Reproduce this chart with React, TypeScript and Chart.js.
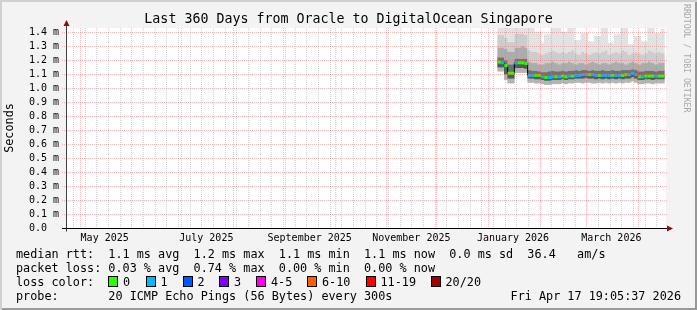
import React, { useEffect, useRef } from "react";
import { Chart, registerables } from "chart.js";

Chart.register(...registerables);

// ---------- text ----------
const TITLE = "Last 360 Days from Oracle to DigitalOcean Singapore";
const Y_TITLE = "Seconds";
const TAG = "RRDTOOL / TOBI OETIKER";
const LEGEND_RTT = "median rtt:  1.1 ms avg  1.2 ms max  1.1 ms min  1.1 ms now  0.0 ms sd  36.4   am/s";
const LEGEND_LOSS = "packet loss: 0.03 % avg  0.74 % max  0.00 % min  0.00 % now";
const LEGEND_COLOR = "loss color:";
const LEGEND_PROBE = "probe:       20 ICMP Echo Pings (56 Bytes) every 300s";
const STAMP = "Fri Apr 17 19:05:37 2026";

// ---------- axes ----------
const RANGE_DAYS = 360;
const START_MS = Date.UTC(2025, 3, 22, 19, 5, 37);
const Y_TICKS = [0, 0.1, 0.2, 0.3, 0.4, 0.5, 0.6, 0.7, 0.8, 0.9, 1.0, 1.1, 1.2, 1.3, 1.4];
const Y_MAX = 1.4286;
const X_LABELS = ["May 2025", "July 2025", "September 2025", "November 2025", "January 2026", "March 2026"];
const X_LABEL_DATES = [[2025, 4, 16], [2025, 6, 16], [2025, 8, 16], [2025, 10, 16], [2026, 0, 16], [2026, 2, 16]];

// ---------- loss legend ----------
const LOSS_LABELS = ["0", "1", "2", "3", "4-5", "6-10", "11-19", "20/20"];
const LOSS_COLORS = ["#26ff00", "#00b8ff", "#0059ff", "#7e00ff", "#ff00ea", "#ff5e00", "#ff0000", "#a00000"];

// ---------- data (days since start, values in ms) ----------
const SAMPLE_DAYS = [260, 262, 264, 266, 268, 270, 272, 274, 276, 278, 280, 282, 284, 286, 288, 290, 292, 294, 296, 298,
  300, 302, 304, 306, 308, 310, 312, 314, 316, 318, 320, 322, 324, 326, 328, 330, 332, 334, 336, 338,
  340, 342, 344, 346, 348, 350, 352, 354, 356, 358];
const MEDIAN = [1.185, 1.18, 1.16, 1.105, 1.105, 1.18, 1.18, 1.18, 1.175, 1.09,
  1.09, 1.09, 1.09, 1.08, 1.075, 1.075, 1.08, 1.08, 1.08, 1.085,
  1.08, 1.085, 1.085, 1.09, 1.09, 1.095, 1.095, 1.095, 1.095, 1.09,
  1.09, 1.09, 1.09, 1.09, 1.09, 1.09, 1.09, 1.09, 1.095, 1.095,
  1.105, 1.095, 1.08, 1.08, 1.085, 1.085, 1.085, 1.085, 1.085, 1.085];
const LOSS = [0, 1, 0, 0, 0, 1, 0, 0, 0, 1,
  1, 0, 0, 1, 0, 1, 1, 0, 1, 0,
  0, 1, 0, 1, 1, 1, 1, 0, 1, 1,
  0, 1, 1, 1, 0, 1, 1, 0, 0, 1,
  1, 1, 0, 1, 0, 0, 0, 1, 0, 0];
const SMOKE_MAX = [1.45, 1.45, 1.45, 1.45, 1.45, 1.45, 1.45, 1.45, 1.45, 1.45,
  1.45, 1.40, 1.40, 1.32, 1.38, 1.38, 1.45, 1.45, 1.45, 1.40,
  1.40, 1.45, 1.45, 1.34, 1.34, 1.39, 1.39, 1.33, 1.33, 1.37,
  1.37, 1.43, 1.43, 1.32, 1.32, 1.38, 1.38, 1.45, 1.45, 1.31,
  1.31, 1.37, 1.37, 1.33, 1.33, 1.45, 1.45, 1.39, 1.39, 1.42];
const SMOKE_HI2 = [1.38, 1.38, 1.36, 1.33, 1.33, 1.39, 1.39, 1.39, 1.38, 1.27,
  1.26, 1.26, 1.25, 1.24, 1.25, 1.26, 1.27, 1.26, 1.25, 1.26,
  1.25, 1.26, 1.27, 1.25, 1.24, 1.26, 1.25, 1.24, 1.25, 1.26,
  1.25, 1.26, 1.27, 1.24, 1.25, 1.26, 1.25, 1.27, 1.26, 1.24,
  1.25, 1.26, 1.25, 1.24, 1.25, 1.27, 1.26, 1.25, 1.26, 1.25];
const SMOKE_HI1 = [1.29, 1.29, 1.28, 1.26, 1.26, 1.29, 1.29, 1.30, 1.29, 1.19,
  1.18, 1.18, 1.17, 1.17, 1.18, 1.18, 1.19, 1.18, 1.17, 1.18,
  1.18, 1.19, 1.18, 1.17, 1.18, 1.18, 1.17, 1.18, 1.19, 1.18,
  1.17, 1.18, 1.18, 1.17, 1.18, 1.19, 1.18, 1.18, 1.17, 1.18,
  1.19, 1.18, 1.17, 1.18, 1.18, 1.19, 1.18, 1.17, 1.18, 1.18];
const SMOKE_HI0 = [1.22, 1.22, 1.20, 1.17, 1.17, 1.21, 1.21, 1.21, 1.21, 1.13,
  1.125, 1.125, 1.12, 1.115, 1.115, 1.12, 1.125, 1.12, 1.12, 1.125,
  1.12, 1.125, 1.125, 1.13, 1.125, 1.13, 1.13, 1.125, 1.13, 1.125,
  1.125, 1.13, 1.125, 1.125, 1.13, 1.125, 1.125, 1.13, 1.13, 1.13,
  1.135, 1.13, 1.12, 1.12, 1.125, 1.125, 1.125, 1.12, 1.125, 1.125];
const SMOKE_LO = [1.15, 1.15, 1.10, 1.07, 1.07, 1.145, 1.145, 1.145, 1.14, 1.07,
  1.07, 1.065, 1.065, 1.06, 1.055, 1.055, 1.06, 1.06, 1.06, 1.065,
  1.06, 1.065, 1.065, 1.07, 1.07, 1.07, 1.075, 1.07, 1.07, 1.065,
  1.07, 1.065, 1.07, 1.065, 1.07, 1.065, 1.07, 1.065, 1.07, 1.07,
  1.08, 1.07, 1.06, 1.06, 1.065, 1.065, 1.06, 1.065, 1.065, 1.065];
const SMOKE_MIN = [1.12, 1.12, 1.06, 1.035, 1.035, 1.11, 1.11, 1.11, 1.11, 1.04,
  1.04, 1.035, 1.035, 1.03, 1.025, 1.025, 1.03, 1.03, 1.03, 1.035,
  1.03, 1.035, 1.035, 1.04, 1.04, 1.035, 1.04, 1.04, 1.035, 1.035,
  1.04, 1.035, 1.04, 1.035, 1.04, 1.035, 1.04, 1.035, 1.04, 1.04,
  1.05, 1.04, 1.03, 1.03, 1.035, 1.035, 1.03, 1.035, 1.035, 1.035];

const MONO = "'DejaVu Sans Mono', monospace";
const DAY_MS = 86400000;
const dayOf = (y: number, m: number, d: number) => (Date.UTC(y, m, d) - START_MS) / DAY_MS;

function monthStarts(): number[] {
  const out: number[] = [];
  for (let k = 0; k < 14; k++) {
    const v = dayOf(2025, 3 + k, 1);
    if (v > 0 && v < RANGE_DAYS) out.push(v);
  }
  return out;
}
function weekStarts(): number[] {
  const out: number[] = [];
  let v = dayOf(2025, 3, 27);
  while (v < RANGE_DAYS) { if (v > 0) out.push(v); v += 7; }
  return out;
}

const rrdPlugin = {
  id: "rrdGrid",
  beforeDatasetsDraw(chart: any) {
    const { ctx, chartArea: a } = chart;
    ctx.save();
    ctx.fillStyle = "#ffffff";
    ctx.fillRect(a.left, a.top, a.right - a.left, a.bottom - a.top);
    ctx.restore();
  },
  afterDatasetsDraw(chart: any) {
    const { ctx, chartArea: a, scales } = chart;
    const xs = scales.x, ys = scales.y;
    ctx.save();
    ctx.lineWidth = 1;
    ctx.setLineDash([1, 1]);
    const months = monthStarts();
    ctx.strokeStyle = "rgba(140,140,140,0.38)";
    for (const d of weekStarts()) {
      if (months.some((m) => Math.abs(m - d) < 0.5)) continue;
      const x = Math.round(xs.getPixelForValue(d)) + 0.5;
      ctx.beginPath(); ctx.moveTo(x, a.top); ctx.lineTo(x, a.bottom); ctx.stroke();
    }
    ctx.strokeStyle = "rgba(240,90,90,0.42)";
    for (const d of months) {
      const x = Math.round(xs.getPixelForValue(d)) + 0.5;
      ctx.beginPath(); ctx.moveTo(x, a.top); ctx.lineTo(x, a.bottom); ctx.stroke();
    }
    for (const v of Y_TICKS) {
      if (v === 0) continue;
      const y = Math.round(ys.getPixelForValue(v)) + 0.5;
      ctx.beginPath(); ctx.moveTo(a.left - 4, y); ctx.lineTo(a.right + 1, y); ctx.stroke();
    }
    ctx.setLineDash([]);
    const x0 = Math.round(a.left) + 0.5;
    const y0 = Math.round(a.bottom) + 0.5;
    ctx.strokeStyle = "#404040";
    ctx.beginPath(); ctx.moveTo(x0, y0 + 3); ctx.lineTo(x0, a.top - 5); ctx.stroke();
    ctx.strokeStyle = "#000";
    ctx.beginPath(); ctx.moveTo(a.left - 4, y0); ctx.lineTo(a.right + 4, y0); ctx.stroke();
    ctx.fillStyle = "#8b0d0d";
    ctx.beginPath();
    ctx.moveTo(x0, a.top - 8); ctx.lineTo(x0 - 3, a.top - 2); ctx.lineTo(x0 + 3, a.top - 2); ctx.closePath(); ctx.fill();
    ctx.beginPath();
    ctx.moveTo(a.right + 7, y0); ctx.lineTo(a.right + 1, y0 - 3); ctx.lineTo(a.right + 1, y0 + 3); ctx.closePath(); ctx.fill();
    ctx.restore();
  },
};

function bandData(lo: number[], hi: number[]) {
  return SAMPLE_DAYS.map((d, i) => ({ x: d, y: [lo[i], hi[i]] }));
}

export default function App() {
  const ref = useRef<HTMLCanvasElement | null>(null);

  useEffect(() => {
    if (!ref.current) return;
    const bands: [number[], number[], string][] = [
      [SMOKE_HI2, SMOKE_MAX, "#e2e2e2"],
      [SMOKE_HI1, SMOKE_HI2, "#cdcdcd"],
      [SMOKE_HI0, SMOKE_HI1, "#acacac"],
      [MEDIAN, SMOKE_HI0, "#707070"],
      [SMOKE_LO, MEDIAN, "#575757"],
      [SMOKE_MIN, SMOKE_LO, "#b4b4b4"],
    ];
    const barSets = bands.map(([lo, hi, color], k) => ({
      type: "bar" as const,
      data: bandData(lo, hi),
      backgroundColor: color,
      borderWidth: 0,
      grouped: false,
      barPercentage: 1,
      categoryPercentage: 1,
      order: 2 + k,
    }));
    const medianPts = SAMPLE_DAYS.map((d, i) => ({ x: d, y: MEDIAN[i] }));
    const chart = new Chart(ref.current, {
      type: "bar",
      data: {
        datasets: [
          {
            type: "line",
            data: medianPts,
            showLine: false,
            pointStyle: "line",
            pointRadius: 1.75,
            pointBorderWidth: 3,
            pointBorderColor: LOSS.map((l) => LOSS_COLORS[l]),
            pointBackgroundColor: LOSS.map((l) => LOSS_COLORS[l]),
            order: 0,
          } as any,
          {
            type: "line",
            data: medianPts,
            borderColor: "#000000",
            borderWidth: 1,
            stepped: "middle",
            pointRadius: 0,
            order: 1,
          } as any,
          ...(barSets as any[]),
        ],
      },
      options: {
        animation: false,
        responsive: false,
        maintainAspectRatio: false,
        events: [],
        layout: { padding: { top: 28, right: 31, bottom: 0, left: 0 } },
        plugins: { legend: { display: false }, tooltip: { enabled: false }, title: { display: false } },
        scales: {
          x: {
            type: "linear",
            min: 0,
            max: RANGE_DAYS,
            offset: false,
            grid: { display: false, drawTicks: false },
            border: { display: false },
            afterBuildTicks: (s: any) => {
              s.ticks = X_LABEL_DATES.map(([y, m, d]) => ({ value: dayOf(y, m, d) }));
            },
            afterFit: (s: any) => { s.height = 82; },
            ticks: {
              autoSkip: false,
              maxRotation: 0,
              minRotation: 0,
              padding: 4,
              color: "#000",
              font: { family: MONO, size: 10 },
              callback: (_v: any, i: number) => X_LABELS[i],
            },
          },
          y: {
            type: "linear",
            min: 0,
            max: Y_MAX,
            grid: { display: false, drawTicks: false },
            border: { display: false },
            afterBuildTicks: (s: any) => { s.ticks = Y_TICKS.map((v) => ({ value: v })); },
            afterFit: (s: any) => { s.width = 66; },
            ticks: {
              autoSkip: false,
              padding: 7,
              color: "#000",
              font: { family: MONO, size: 10 },
              callback: (v: any) => Number(v).toFixed(1) + (Number(v) === 0 ? "  " : " m"),
            },
            title: {
              display: true,
              text: Y_TITLE,
              color: "#000",
              font: { family: MONO, size: 11.8 },
              padding: { top: 3, bottom: 0 },
            },
          },
        },
      } as any,
      plugins: [rrdPlugin],
    });
    return () => chart.destroy();
  }, []);

  const textStyle: React.CSSProperties = {
    position: "absolute",
    fontFamily: MONO,
    fontSize: "11.8px",
    lineHeight: "14px",
    whiteSpace: "pre",
    color: "#000",
    margin: 0,
  };
  const swatchX = [108, 145.5, 182.5, 219, 256, 307, 365.5, 430.5];

  return (
    <div style={{ position: "fixed", left: 0, top: 0, width: 697, height: 310, background: "#f3f3f3", overflow: "hidden" }}>
      <canvas ref={ref} width={697} height={310} style={{ position: "absolute", left: 0, top: 0, width: 697, height: 310 }} />
      <div style={{ ...textStyle, left: 0, width: 697, top: 11, fontSize: "13.3px", lineHeight: "16px", textAlign: "center" }}>{TITLE}</div>
      <div style={{ ...textStyle, left: 682, top: 4, fontSize: "8.2px", lineHeight: "10px", color: "#a8a8a8", writingMode: "vertical-rl" }}>{TAG}</div>
      <div style={{ ...textStyle, left: 16, top: 247.3 }}>{LEGEND_RTT}</div>
      <div style={{ ...textStyle, left: 16, top: 261.3 }}>{LEGEND_LOSS}</div>
      <div style={{ ...textStyle, left: 16, top: 275.3 }}>{LEGEND_COLOR}</div>
      {LOSS_LABELS.map((lab, i) => (
        <React.Fragment key={lab}>
          <div style={{ position: "absolute", left: swatchX[i], top: 276, width: 8, height: 9, background: LOSS_COLORS[i], border: "1px solid #000" }} />
          <div style={{ ...textStyle, left: swatchX[i] + 15, top: 275.3 }}>{lab}</div>
        </React.Fragment>
      ))}
      <div style={{ ...textStyle, left: 16, top: 289 }}>{LEGEND_PROBE}</div>
      <div style={{ ...textStyle, right: 16, top: 289 }}>{STAMP}</div>
      <div style={{ position: "absolute", inset: 0, pointerEvents: "none", boxShadow: "inset 2px 2px 0 #d0d0d0, inset -2px -2px 0 #999999" }} />
    </div>
  );
}
